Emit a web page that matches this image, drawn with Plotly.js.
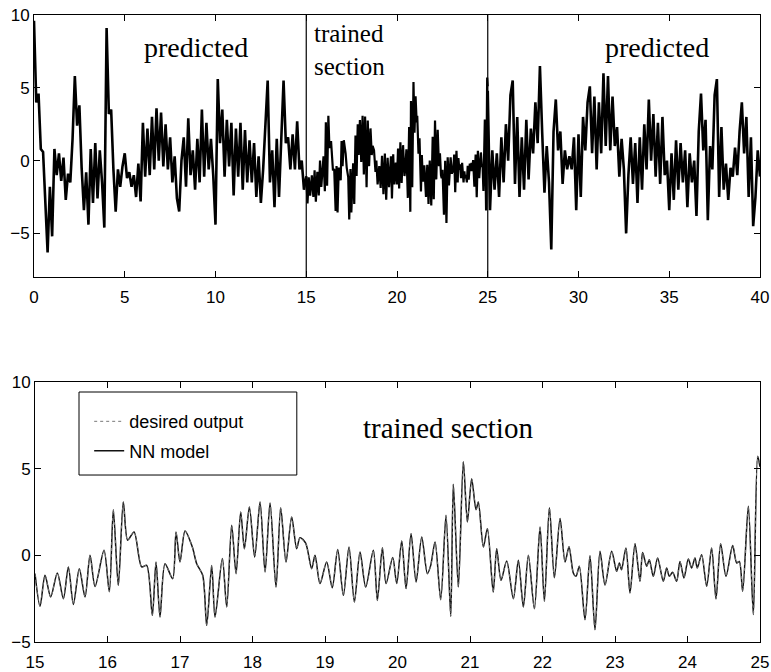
<!DOCTYPE html>
<html>
<head>
<meta charset="utf-8">
<script src="https://cdn.plot.ly/plotly-3.0.1.min.js"></script>
<style>html,body{margin:0;padding:0;background:#fff;}</style>
</head>
<body>
<div id="chart" style="width:771px;height:672px;"></div>
<script>
// ---- data ----
// Top panel, predicted part 1: x from 0 to 15 in steps of 0.125
const predictedStart = [
  9.6, 4.0, 4.6, 0.8, 0.6, -2.5, -6.3, -1.8, -5.2, 0.8,
  -1.0, 0.5, -1.4, 0.2, -2.7, -0.9, -1.5, 1.5, 5.8, 2.4,
  3.8, -0.5, -3.4, -0.8, -4.4, 0.8, -2.9, 1.2, -2.6, 0.7,
  -1.5, -4.6, 9.1, 3.2, 3.5, -0.6, -3.5, -0.6, -1.8, -0.4,
  0.5, -1.2, -0.8, -1.8, -1.0, -2.5, -0.2, -2.8, 2.6, -1.1,
  2.2, -1.0, 3.0, -0.6, 3.6, 0.0, 3.3, -0.4, 2.5, -0.6,
  1.6, -1.5, 0.3, -2.6, -3.5, 0.0, 1.6, -1.8, 2.9, -1.0,
  0.7, -2.0, 1.5, -1.5, 3.5, -1.1, 2.6, -0.6, 1.5, -1.0,
  -4.4, 5.6, 1.2, 3.5, -1.1, 2.8, -0.4, 2.6, -2.4, 2.2,
  -1.1, 2.6, -2.0, 2.1, -1.5, 1.4, -1.5, 1.2, -2.5, 0.3,
  -2.9, -0.6, 3.0, 5.5, -1.5, 0.7, -3.2, 1.5, -2.5, 2.1,
  5.5, 1.2, 1.6, -0.6, 1.8, -0.6, 2.7, -0.6, 0.0, -2.0,
  -1.1
];
const predictedStartX0 = 0;
// Top panel, predicted part 2: x from 25 to 40 in steps of 0.125
const predictedEnd = [
  4.8, -3.4, 0.7, -2.0, 0.5, -2.5, 1.6, -1.5, 2.5, 0.0,
  4.5, 5.5, -1.6, 3.0, -2.5, 1.6, -2.0, 2.8, -1.3, 2.2,
  0.5, 4.0, 1.2, 6.5, 1.9, -2.2, 1.0, -1.5, -6.1, 2.0,
  4.2, 0.7, 2.0, -1.6, 0.7, -0.6, 0.3, -0.6, 1.6, -3.4,
  1.8, -2.5, 3.0, 0.7, 4.0, 5.1, 0.5, 4.4, -0.6, 4.0,
  0.5, 6.0, 1.0, 5.8, 0.7, 4.4, 1.0, 2.3, -1.1, 1.5,
  -0.6, -5.0, -1.0, 1.6, -1.6, 1.2, -2.9, 1.6, -2.0, 2.5,
  -0.6, 4.2, 0.0, 3.2, -1.1, 2.6, -1.6, 3.0, -1.0, 0.0,
  -3.4, 0.5, -2.7, 1.4, -2.0, 1.2, -1.5, 0.7, -3.2, 0.5,
  -1.5, 0.0, -3.8, 2.0, 4.6, 0.7, 2.8, -4.1, 1.0, -0.6,
  4.5, 5.6, -2.5, 2.3, -2.0, -0.2, -2.7, -0.5, -1.1, 0.9,
  -1.0, 2.0, 4.0, 0.5, 3.0, -2.5, 1.6, -4.5, -2.5, 0.7,
  -1.1
];
const predictedEndX0 = 25;
const predictedStep = 0.125;

// Trained section (15..25): desired output, read at its peaks and troughs
const trainedX = [
  15.000, 15.069, 15.138, 15.216, 15.308, 15.391, 15.460, 15.529, 15.611, 15.690,
  15.759, 15.828, 15.952, 16.025, 16.080, 16.149, 16.218, 16.278, 16.366, 16.471,
  16.540, 16.618, 16.669, 16.724, 16.793, 16.899, 16.945, 17.000, 17.069, 17.170,
  17.230, 17.313, 17.368, 17.437, 17.483, 17.584, 17.644, 17.713, 17.773, 17.837,
  17.888, 17.957, 18.030, 18.104, 18.173, 18.242, 18.324, 18.389, 18.462, 18.540,
  18.609, 18.655, 18.733, 18.816, 18.862, 18.931, 19.023, 19.100, 19.175, 19.253,
  19.331, 19.405, 19.483, 19.561, 19.667, 19.722, 19.791, 19.842, 19.934, 19.989,
  20.058, 20.118, 20.187, 20.256, 20.334, 20.412, 20.458, 20.518, 20.596, 20.669,
  20.734, 20.770, 20.839, 20.908, 20.964, 21.023, 21.083, 21.115, 21.184, 21.240,
  21.320, 21.368, 21.428, 21.506, 21.598, 21.667, 21.736, 21.805, 21.888, 21.966,
  22.026, 22.095, 22.164, 22.242, 22.311, 22.366, 22.425, 22.462, 22.508, 22.586,
  22.655, 22.724, 22.793, 22.862, 22.954, 23.023, 23.060, 23.090, 23.151, 23.207,
  23.276, 23.345, 23.381, 23.437, 23.473, 23.528, 23.588, 23.666, 23.712, 23.749,
  23.795, 23.850, 23.896, 23.951, 24.011, 24.057, 24.103, 24.135, 24.195, 24.264,
  24.333, 24.393, 24.457, 24.531, 24.623, 24.678, 24.715, 24.761, 24.839, 24.908,
  24.968, 25.000
];
const desiredOutput = [
  -1.06, -2.94, -1.15, -2.40, -1.02, -2.50, -0.67, -2.83, -0.77, -2.40,
  0.00, -1.80, 0.29, -2.10, 2.63, -1.73, 3.08, 0.87, 1.35, -0.67,
  -0.58, -3.46, -0.38, -3.56, -0.48, -1.35, 1.35, -0.38, 1.40, 0.48,
  -0.48, -1.15, -4.04, -0.58, -3.56, -0.19, -2.98, 1.73, -1.06, 2.50,
  0.38, 2.79, -0.10, 3.08, -0.96, 3.02, -1.83, 2.75, -0.38, 2.21,
  0.38, 1.02, 0.71, -0.77, 0.00, -1.63, -0.38, -1.87, 0.33, -2.31,
  0.48, -2.69, 0.19, -1.83, 0.29, -2.60, 0.44, -1.63, -0.13, -1.63,
  0.83, -1.92, 1.25, -1.54, 1.06, -1.06, -0.58, 0.77, -2.56, 2.31,
  -3.52, 4.10, -1.83, 5.40, 1.92, 4.42, 2.63, 3.08, 0.48, 1.54,
  -2.12, 0.38, -1.44, -0.33, -2.50, -0.29, -2.98, 0.00, -3.08, 1.63,
  -2.65, 2.75, -1.29, 2.12, -0.38, 0.50, -1.02, -1.21, -0.63, -3.71,
  -0.02, -4.29, 0.23, -1.71, 0.23, -0.92, -0.44, -0.83, 0.42, -2.17,
  0.67, -1.50, 0.17, -0.63, -0.25, -1.21, -0.15, -1.50, -0.73, -1.21,
  -0.98, -1.50, -0.35, -1.31, -0.21, -0.73, -0.15, -0.73, 0.04, -1.79,
  0.42, -2.52, 0.67, -1.21, 0.56, -0.44, -0.35, -2.08, 2.83, -3.42,
  5.71, 5.10
];
// NN model output: indistinguishable from the desired output at this resolution
const nnModel = desiredOutput;

const sectionBounds = [15, 25];
const topXTicks = [0, 5, 10, 15, 20, 25, 30, 35, 40];
const topYTicks = [-5, 0, 5, 10];
const bottomXTicks = [15, 16, 17, 18, 19, 20, 21, 22, 23, 24, 25];
const bottomYTicks = [-5, 0, 5, 10];
const seriesNames = ['desired output', 'NN model'];

// ---- chart ----
const black = '#000';
const topLine = {color: black, width: 2.6};
const traces = [
  {x0: predictedStartX0, dx: predictedStep, y: predictedStart, type: 'scatter', mode: 'lines',
   xaxis: 'x', yaxis: 'y', line: topLine, showlegend: false, hoverinfo: 'skip'},
  {x: trainedX, y: desiredOutput, type: 'scatter', mode: 'lines',
   xaxis: 'x', yaxis: 'y', line: {color: black, width: 2.2}, showlegend: false, hoverinfo: 'skip'},
  {x0: predictedEndX0, dx: predictedStep, y: predictedEnd, type: 'scatter', mode: 'lines',
   xaxis: 'x', yaxis: 'y', line: topLine, showlegend: false, hoverinfo: 'skip'},
  {x: trainedX, y: nnModel, type: 'scatter', mode: 'lines', name: seriesNames[1],
   xaxis: 'x2', yaxis: 'y2', line: {color: '#111', width: 1.5, shape: 'spline', smoothing: 0.8},
   legendgroup: 'b', legendrank: 2},
  {x: trainedX, y: desiredOutput, type: 'scatter', mode: 'lines', name: seriesNames[0],
   xaxis: 'x2', yaxis: 'y2', line: {color: '#777', width: 1, dash: 'dot', shape: 'spline', smoothing: 0.8},
   legendgroup: 'a', legendrank: 1}
];

function axisStyle(extra) {
  return Object.assign({
    showline: true, linecolor: black, linewidth: 1, mirror: 'ticks',
    ticks: 'inside', ticklen: 6, tickcolor: black, tickwidth: 1,
    showgrid: false, zeroline: false, fixedrange: true,
    tickfont: {family: 'Liberation Sans, Arial, sans-serif', size: 17, color: black}
  }, extra);
}

const serif = 'Liberation Serif, Times New Roman, serif';
const shapes = sectionBounds.map(b => ({
  type: 'line', xref: 'x', yref: 'y domain', x0: b, x1: b, y0: 0, y1: 1,
  line: {color: black, width: 1.2}
}));
shapes.push({type: 'rect', xref: 'paper', yref: 'paper', x0: 0.062, x1: 0.362, y0: 0.2663, y1: 0.3987,
  line: {color: black, width: 1}, fillcolor: 'rgba(0,0,0,0)'});

const layout = {
  width: 771, height: 672,
  margin: {l: 34, r: 11, t: 15, b: 30},
  paper_bgcolor: '#fff', plot_bgcolor: '#fff',
  font: {family: 'Liberation Sans, Arial, sans-serif', size: 17, color: black},
  xaxis: axisStyle({domain: [0, 1], anchor: 'y', range: [0, 40], tickvals: topXTicks, ticklabelstandoff: 5}),
  yaxis: axisStyle({domain: [0.582, 1], anchor: 'x', range: [-8, 10], tickvals: topYTicks}),
  xaxis2: axisStyle({domain: [0.0014, 1], anchor: 'y2', range: [15, 25], tickvals: bottomXTicks, ticklabelstandoff: 5}),
  yaxis2: axisStyle({domain: [0, 0.4147], anchor: 'x2', range: [-5, 10], tickvals: bottomYTicks}),
  showlegend: true,
  legend: {x: 0.076, y: 0.381, xanchor: 'left', yanchor: 'top', bgcolor: 'rgba(0,0,0,0)',
    borderwidth: 0, font: {family: 'Liberation Sans, Arial, sans-serif', size: 18, color: black},
    traceorder: 'grouped', tracegroupgap: 3},
  shapes: shapes,
  annotations: [
    {xref: 'x', yref: 'y', x: 8.95, y: 7.8, text: 'predicted', showarrow: false,
     font: {family: serif, size: 28, color: black}, xanchor: 'center', yanchor: 'middle'},
    {xref: 'x', yref: 'y', x: 15.33, y: 7.6, text: 'trained<br>section', showarrow: false, align: 'left',
     font: {family: serif, size: 25, color: black}, xanchor: 'left', yanchor: 'middle'},
    {xref: 'x', yref: 'y', x: 34.3, y: 7.8, text: 'predicted', showarrow: false,
     font: {family: serif, size: 28, color: black}, xanchor: 'center', yanchor: 'middle'},
    {xref: 'x2', yref: 'y2', x: 20.7, y: 7.37, text: 'trained section', showarrow: false,
     font: {family: serif, size: 29, color: black}, xanchor: 'center', yanchor: 'middle'}
  ]
};

Plotly.newPlot('chart', traces, layout, {displayModeBar: false, staticPlot: true});
</script>
</body>
</html>
